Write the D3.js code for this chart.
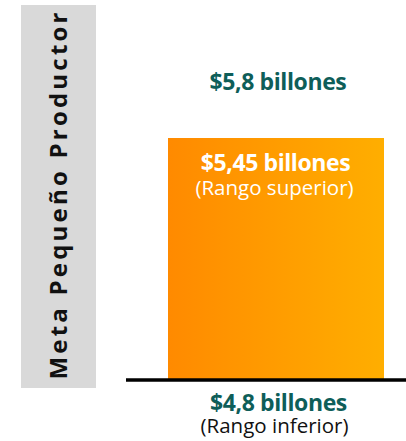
<!DOCTYPE html>
<html>
<head>
<meta charset="utf-8">
<script src="https://cdn.jsdelivr.net/npm/d3@7"></script>
<style>
  html, body { margin: 0; padding: 0; background: #fff; }
  svg { display: block; font-family: "Open Sans", "Noto Sans", sans-serif; }
</style>
</head>
<body>
<svg id="chart" width="406" height="441"></svg>
<script>
// Range of the small-producer goal (billions)
const rangeLabels = ["Rango inferior", "Rango superior"];
const rangeValues = [4.8, 5.45];
const goalValue = 5.8;
const goalTitle = "Meta Pequeño Productor";

const fmt = v => "$" + String(v).replace(".", ",") + " billones";

const svg = d3.select("#chart");
const W = 406, H = 441;

// Value scale: baseline at the lower range, bar top at the upper range
const y = d3.scaleLinear().domain([4.8, 5.45]).range([380, 138]);
const x = d3.scaleBand().domain([goalTitle]).range([168, 384]).padding(0);

const defs = svg.append("defs");
const grad = defs.append("linearGradient").attr("id", "barGrad")
  .attr("x1", "0%").attr("x2", "100%").attr("y1", "0%").attr("y2", "0%");
grad.append("stop").attr("offset", "0%").attr("stop-color", "#ff8a00");
grad.append("stop").attr("offset", "100%").attr("stop-color", "#ffae00");

// Side panel with the rotated title
svg.append("rect").attr("x", 21).attr("y", 5).attr("width", 75).attr("height", 383)
  .attr("fill", "#d9d9d9");
svg.append("text")
  .attr("transform", "translate(67,196) rotate(-90)")
  .attr("text-anchor", "middle")
  .attr("font-size", 24).attr("font-weight", 700)
  .attr("fill", "#111")
  .attr("textLength", 367).attr("lengthAdjust", "spacing")
  .text(goalTitle);

// Range bar
svg.append("rect")
  .attr("x", x(goalTitle)).attr("width", x.bandwidth())
  .attr("y", y(rangeValues[1])).attr("height", y(rangeValues[0]) - y(rangeValues[1]))
  .attr("fill", "url(#barGrad)");

// Baseline
svg.append("line").attr("x1", 126).attr("x2", W)
  .attr("y1", y(rangeValues[0])).attr("y2", y(rangeValues[0]))
  .attr("stroke", "#000").attr("stroke-width", 3.5);

const teal = "#0e5e59";

// Goal label
svg.append("text").attr("x", 278).attr("y", 90).attr("text-anchor", "middle")
  .attr("font-size", 23).attr("font-weight", 700).attr("fill", teal)
  .attr("letter-spacing", -0.4)
  .text(fmt(goalValue));

// Upper range labels inside bar
svg.append("text").attr("x", 275.5).attr("y", y(rangeValues[1]) + 33).attr("text-anchor", "middle")
  .attr("font-size", 23).attr("font-weight", 700).attr("fill", "#fff")
  .attr("letter-spacing", -0.4)
  .text(fmt(rangeValues[1]));
svg.append("text").attr("x", 274.5).attr("y", y(rangeValues[1]) + 57).attr("text-anchor", "middle")
  .attr("font-size", 20.5).attr("fill", "#fff")
  .text("(" + rangeLabels[1] + ")");

// Lower range labels below baseline
svg.append("text").attr("x", 278.5).attr("y", y(rangeValues[0]) + 31).attr("text-anchor", "middle")
  .attr("font-size", 23).attr("font-weight", 700).attr("fill", teal)
  .attr("letter-spacing", -0.4)
  .text(fmt(rangeValues[0]));
svg.append("text").attr("x", 274.5).attr("y", y(rangeValues[0]) + 53).attr("text-anchor", "middle")
  .attr("font-size", 20.5).attr("fill", "#111")
  .text("(" + rangeLabels[0] + ")");
</script>
</body>
</html>
